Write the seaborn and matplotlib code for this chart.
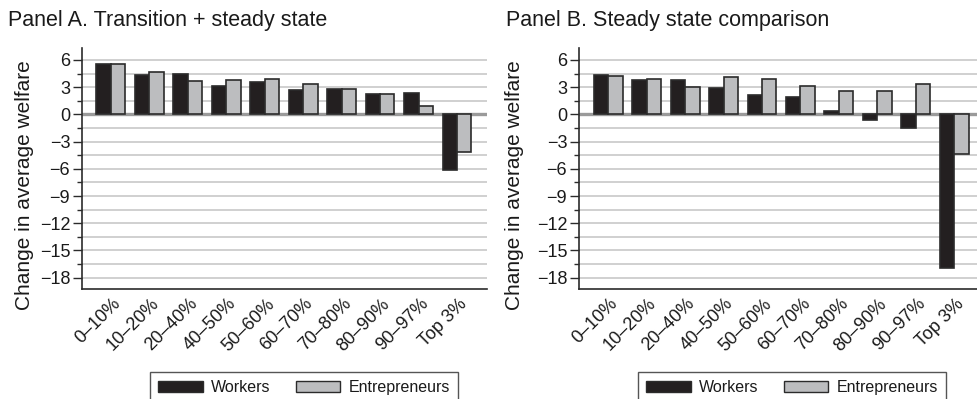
import numpy as np
import pandas as pd
import matplotlib
matplotlib.use("Agg")
import matplotlib.pyplot as plt
import matplotlib.transforms as mtransforms
from matplotlib.ticker import MultipleLocator
from matplotlib.patches import Patch
import seaborn as sns

# Wealth groups and welfare changes (percent)
groups = ["0–10%", "10–20%", "20–40%", "40–50%", "50–60%",
          "60–70%", "70–80%", "80–90%", "90–97%", "Top 3%"]

transition_workers = [5.56, 4.31, 4.45, 3.17, 3.61, 2.72, 2.83, 2.21, 2.36, -6.18]
transition_entrepreneurs = [5.56, 4.67, 3.64, 3.83, 3.86, 3.31, 2.76, 2.25, 0.92, -4.20]

steady_workers = [4.31, 3.79, 3.83, 2.91, 2.10, 1.91, 0.40, -0.63, -1.51, -16.95]
steady_entrepreneurs = [4.27, 3.94, 3.05, 4.16, 3.94, 3.09, 2.61, 2.61, 3.31, -4.34]

series_names = ["Workers", "Entrepreneurs"]
y_ticks = [6, 3, 0, -3, -6, -9, -12, -15, -18]

panel_titles = ["Panel A. Transition + steady state",
                "Panel B. Steady state comparison"]
y_title = "Change in average welfare"

BLACK = "#231f20"
GREY = "#bcbdbf"
EDGE = "#2b2b2b"
TEXT = "#1a1a1a"


def long_frame(workers, entrepreneurs):
    return pd.DataFrame({
        "group": groups * 2,
        "who": [series_names[0]] * len(groups) + [series_names[1]] * len(groups),
        "value": list(workers) + list(entrepreneurs),
    })


sns.set_theme(style="white")
plt.rcParams["font.family"] = ["Liberation Sans", "DejaVu Sans"]
plt.rcParams["axes.unicode_minus"] = True

fig = plt.figure(figsize=(9.78, 3.99), dpi=100)

ax_a = fig.add_axes([82 / 978, 1 - 289 / 399, (487 - 82) / 978, (289 - 48) / 399])
ax_b = fig.add_axes([579 / 978, 1 - 289 / 399, (978 - 579) / 978, (289 - 48) / 399])

panels = [
    (ax_a, long_frame(transition_workers, transition_entrepreneurs), (-0.75, 9.78), 8, panel_titles[0]),
    (ax_b, long_frame(steady_workers, steady_entrepreneurs), (-0.76, 9.62), 506, panel_titles[1]),
]

for ax, df, xlim, title_x, title in panels:
    ax.set_axisbelow(True)
    sns.barplot(data=df, x="group", y="value", hue="who",
                order=groups, hue_order=series_names,
                palette=[BLACK, GREY], width=0.75, saturation=1,
                edgecolor=EDGE, linewidth=1.2, errorbar=None,
                legend=False, ax=ax, zorder=3)

    ax.set_xlim(*xlim)
    ax.set_ylim(-19.25, 7.32)
    ax.yaxis.set_minor_locator(MultipleLocator(1.5))
    ax.set_yticks(y_ticks)
    ax.set_yticklabels([f"{t:d}".replace("-", "\u2212") for t in y_ticks])
    ax.grid(True, which="both", axis="y", color="#d0d0d0", linewidth=1.4, zorder=0)
    ax.grid(False, axis="x")
    ax.axhline(0, color="#9a9a9a", linewidth=2.4, zorder=1)

    for side in ("top", "right"):
        ax.spines[side].set_visible(False)
    for side in ("left", "bottom"):
        ax.spines[side].set_color(EDGE)
        ax.spines[side].set_linewidth(1.2)

    ax.tick_params(axis="y", which="major", left=True, length=6.5, width=1.0,
                   color=EDGE, labelsize=13, pad=2, labelcolor=TEXT)
    ax.tick_params(axis="y", which="minor", left=True, length=3.5, width=1.0, color=EDGE)
    ax.tick_params(axis="x", bottom=False, labelsize=13, pad=0, labelcolor=TEXT)

    offset = mtransforms.ScaledTranslation(1 / 100, 2 / 100, fig.dpi_scale_trans)
    for lab in ax.get_xticklabels():
        lab.set_rotation(45)
        lab.set_ha("right")
        lab.set_va("top")
        lab.set_rotation_mode("anchor")
        lab.set_transform(lab.get_transform() + offset)

    ax.set_xlabel("")
    ax.set_ylabel("")

    fig.text(title_x / 978, 1 - 26 / 399, title,
             fontsize=15.5, color=TEXT, ha="left", va="baseline")

# Rotated y-axis titles
for x_px in (25, 515):
    fig.text(x_px / 978, 1 - 185 / 399, y_title, rotation=90,
             fontsize=15, color=TEXT, ha="center", va="center")

# Legends below each panel
handles = [Patch(facecolor=BLACK, edgecolor=EDGE, linewidth=1.0),
           Patch(facecolor=GREY, edgecolor=EDGE, linewidth=1.0)]
for x_px in (150, 638):
    leg = fig.legend(handles, series_names, loc="upper left",
                     bbox_to_anchor=(x_px / 978, 1 - 372 / 399),
                     bbox_transform=fig.transFigure, ncol=2, frameon=True,
                     fancybox=False, fontsize=11.5, handlelength=2.8,
                     handleheight=0.75, columnspacing=1.6, borderaxespad=0,
                     borderpad=0.5, handletextpad=0.5)
    leg.get_frame().set_edgecolor(EDGE)
    leg.get_frame().set_linewidth(1.0)
    for txt in leg.get_texts():
        txt.set_color(TEXT)

fig.savefig("out.png", dpi=100)
